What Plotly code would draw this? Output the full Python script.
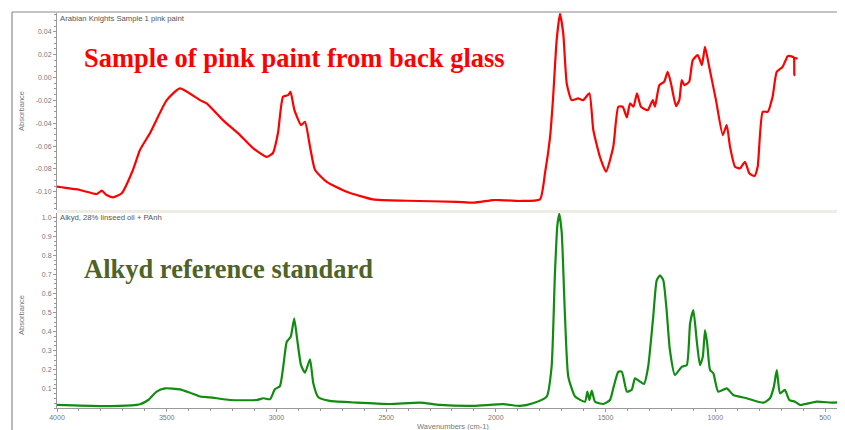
import plotly.graph_objects as go

# Top spectrum: pink paint sample (wavenumber cm-1, absorbance)
pink_wn = [4000, 3895, 3819, 3796, 3774, 3745, 3705, 3654, 3622, 3576, 3500, 3440,
           3348, 3318, 3244, 3166, 3107, 3044, 3016, 2993, 2970, 2947, 2936, 2918,
           2888, 2870, 2847, 2824, 2771, 2680, 2560, 2406, 2178, 2104, 2013, 1981,
           1890, 1799, 1776, 1753, 1740, 1723, 1708, 1693, 1677, 1655, 1625, 1602,
           1574, 1556, 1526, 1498, 1465, 1442, 1422, 1403, 1389, 1373, 1357, 1339,
           1308, 1285, 1275, 1255, 1233, 1217, 1202, 1179, 1164, 1153, 1141, 1119,
           1103, 1080, 1061, 1047, 1028, 997, 966, 948, 933, 910, 887, 865, 845,
           822, 807, 784, 761, 739, 720, 693, 670, 647, 642, 640, 638, 625]
pink_abs = [-0.0956, -0.0985, -0.1020, -0.0991, -0.1029, -0.1049, -0.1014, -0.0810,
            -0.0635, -0.0486, -0.0198, -0.0095, -0.0198, -0.0227, -0.0373, -0.0504,
            -0.0618, -0.0694, -0.0661, -0.0486, -0.0169, -0.0154, -0.0125, -0.0285,
            -0.0416, -0.0388, -0.0606, -0.0810, -0.0913, -0.1000, -0.1067, -0.1079,
            -0.1088, -0.1096, -0.1073, -0.1073, -0.1081, -0.1067, -0.0836, -0.0519,
            -0.0198, 0.0327, 0.0558, 0.0386, -0.0052, -0.0198, -0.0183, -0.0198,
            -0.0139, -0.0460, -0.0694, -0.0825, -0.0606, -0.0256, -0.0256, -0.0349,
            -0.0227, -0.0256, -0.0139, -0.0256, -0.0285, -0.0198, -0.0256, -0.0066,
            -0.0037, 0.0050, -0.0052, -0.0250, -0.0198, -0.0023, -0.0066, -0.0037,
            0.0152, 0.0196, 0.0109, 0.0269, 0.0094, -0.0198, -0.0504, -0.0416,
            -0.0606, -0.0781, -0.0795, -0.0738, -0.0839, -0.0863, -0.0781, -0.0300,
            -0.0300, -0.0169, 0.0050, 0.0094, 0.0187, 0.0181, 0.0175, 0.0020, 0.0170,
            0.0167]

# Bottom spectrum: alkyd reference standard
alkyd_wn = [4000, 3804, 3660, 3622, 3584, 3546, 3508, 3440, 3394, 3348, 3303, 3212, 3090,
            3060, 3029, 3007, 2984, 2969, 2953, 2935, 2919, 2905, 2888, 2870, 2847,
            2832, 2809, 2756, 2634, 2483, 2346, 2255, 2103, 1966, 1890, 1831, 1768,
            1746, 1731, 1720, 1711, 1700, 1685, 1670, 1639, 1594, 1583, 1574, 1563,
            1548, 1511, 1480, 1465, 1442, 1426, 1403, 1381, 1366, 1343, 1325, 1306,
            1283, 1267, 1252, 1237, 1222, 1207, 1184, 1153, 1130, 1115, 1100, 1085,
            1070, 1057, 1047, 1037, 1024, 1009, 987, 948, 918, 857, 781, 751, 733,
            720, 705, 683, 663, 637, 614, 538, 462, 409]
alkyd_abs = [0.016, 0.010, 0.014, 0.020, 0.042, 0.086, 0.103, 0.098, 0.080, 0.060, 0.056,
             0.042, 0.042, 0.051, 0.046, 0.098, 0.115, 0.216, 0.347, 0.373, 0.469,
             0.356, 0.225, 0.185, 0.255, 0.130, 0.056, 0.037, 0.028, 0.021, 0.028,
             0.016, 0.011, 0.020, 0.011, 0.025, 0.060, 0.216, 0.700, 0.955, 1.018,
             0.920, 0.478, 0.164, 0.060, 0.033, 0.086, 0.042, 0.091, 0.033, 0.021,
             0.042, 0.103, 0.190, 0.190, 0.086, 0.095, 0.156, 0.138, 0.126, 0.216,
             0.478, 0.669, 0.695, 0.669, 0.513, 0.304, 0.173, 0.216, 0.225, 0.443,
             0.513, 0.356, 0.225, 0.268, 0.408, 0.339, 0.199, 0.182, 0.086, 0.103,
             0.068, 0.051, 0.028, 0.051, 0.112, 0.199, 0.077, 0.095, 0.042, 0.033,
             0.016, 0.033, 0.028, 0.033]

x_ticks = [4000, 3500, 3000, 2500, 2000, 1500, 1000, 500]
top_ticks = [0.04, 0.02, 0.00, -0.02, -0.04, -0.06, -0.08, -0.10]
top_ticktext = ["0.04", "0.02", "0.00", "-0.02", "-0.04", "-0.06", "-0.08", "-0.10"]
bot_ticks = [1.0, 0.9, 0.8, 0.7, 0.6, 0.5, 0.4, 0.3, 0.2, 0.1]
bot_ticktext = ["1.0", "0.9", "0.8", "0.7", "0.6", "0.5", "0.4", "0.3", "0.2", "0.1"]

OFF = 8  # page body margin of the browser
W, H = 845 - OFF, 430 - OFF
L, R, T, B = 57 - OFF, 0, 13 - OFF, 22
PW, PH = W - L - R, H - T - B


def px(x):
    return (x - OFF - L) / PW


def py(y):
    return (H - B - (y - OFF)) / PH


top_dom = [py(210), 1.0]
bot_dom = [0.0, py(213)]

fig = go.Figure()
fig.add_trace(go.Scatter(x=pink_wn, y=pink_abs, mode="lines",
                         line=dict(color="#ff0000", width=2.2, shape="spline", smoothing=0.5),
                         xaxis="x", yaxis="y", showlegend=False, hoverinfo="skip"))
fig.add_trace(go.Scatter(x=alkyd_wn, y=alkyd_abs, mode="lines",
                         line=dict(color="#108c10", width=2.2, shape="spline", smoothing=0.5),
                         xaxis="x2", yaxis="y2", showlegend=False, hoverinfo="skip"))

tickfont = dict(family="Liberation Sans, Arial, sans-serif", size=7, color="#777777")
axcol = "#999999"
xr = [4000, 409]

fig.update_layout(
    width=W, height=H,
    margin=dict(l=L, r=R, t=T, b=B),
    paper_bgcolor="white", plot_bgcolor="white",
    xaxis=dict(domain=[0, 1], range=xr, anchor="y", showticklabels=False,
               showgrid=False, zeroline=False, showline=False, ticks=""),
    yaxis=dict(domain=top_dom, range=[-0.116, 0.0565], anchor="x",
               tickvals=top_ticks, ticktext=top_ticktext, tickfont=tickfont,
               ticks="outside", ticklen=3, tickcolor=axcol, showline=True,
               linecolor=axcol, linewidth=1, showgrid=False, zeroline=False,
               minor=dict(ticks="outside", ticklen=2, dtick=0.005, tickcolor=axcol)),
    xaxis2=dict(domain=[0, 1], range=xr, anchor="y2",
                tickvals=x_ticks, ticktext=[str(v) for v in x_ticks], tickfont=tickfont,
                ticks="outside", ticklen=3, tickcolor=axcol, showline=True,
                linecolor=axcol, linewidth=1, showgrid=False, zeroline=False,
                minor=dict(ticks="outside", ticklen=2, dtick=100, tickcolor=axcol)),
    yaxis2=dict(domain=bot_dom, range=[0.0, 1.022], anchor="x2",
                tickvals=bot_ticks, ticktext=bot_ticktext, tickfont=tickfont,
                ticks="outside", ticklen=3, tickcolor=axcol, showline=True,
                linecolor=axcol, linewidth=1, showgrid=False, zeroline=False,
                minor=dict(ticks="outside", ticklen=2, dtick=0.025, tickcolor=axcol)),
)

shapes = [
    # separator band between panels
    dict(type="rect", xref="paper", yref="paper", x0=0, x1=1, y0=py(213), y1=py(210),
         fillcolor="#efece4", line=dict(width=0), layer="below"),
    # window frame lines
    dict(type="line", xref="paper", yref="paper", x0=px(12), x1=px(12),
         y0=py(432), y1=py(12), line=dict(color="#8a8a8a", width=1.2)),
    dict(type="line", xref="paper", yref="paper", x0=px(12), x1=1.0,
         y0=py(12), y1=py(12), line=dict(color="#8a8a8a", width=1.2)),
]
fig.update_layout(shapes=shapes)

small = dict(family="Liberation Sans, Arial, sans-serif", size=7.7, color="#555555")
ann = [
    dict(text="Arabian Knights Sample 1 pink paint", x=px(58), y=py(19),
         xanchor="left", yanchor="middle", font=small),
    dict(text="Alkyd, 28% linseed oil + PAnh", x=px(58), y=py(217),
         xanchor="left", yanchor="middle", font=small),
    dict(text="<b>Sample of pink paint from back glass</b>", x=px(82), y=py(58),
         xanchor="left", yanchor="middle",
         font=dict(family="Liberation Serif, Times New Roman, serif", size=26.5,
                   color="#ff0000")),
    dict(text="<b>Alkyd reference standard</b>", x=px(82), y=py(269),
         xanchor="left", yanchor="middle",
         font=dict(family="Liberation Serif, Times New Roman, serif", size=26.5,
                   color="#4f6228")),
    dict(text="Absorbance", x=px(21), y=py(111), textangle=-90,
         xanchor="center", yanchor="middle",
         font=dict(family="Liberation Sans, Arial, sans-serif", size=7.5, color="#777777")),
    dict(text="Absorbance", x=px(21), y=py(315), textangle=-90,
         xanchor="center", yanchor="middle",
         font=dict(family="Liberation Sans, Arial, sans-serif", size=7.5, color="#777777")),
    dict(text="Wavenumbers (cm-1)", x=px(453), y=py(426),
         xanchor="center", yanchor="middle",
         font=dict(family="Liberation Sans, Arial, sans-serif", size=7.5, color="#777777")),
]
for a in ann:
    a.update(xref="paper", yref="paper", showarrow=False)
fig.update_layout(annotations=ann)

fig.write_html("out.html")
